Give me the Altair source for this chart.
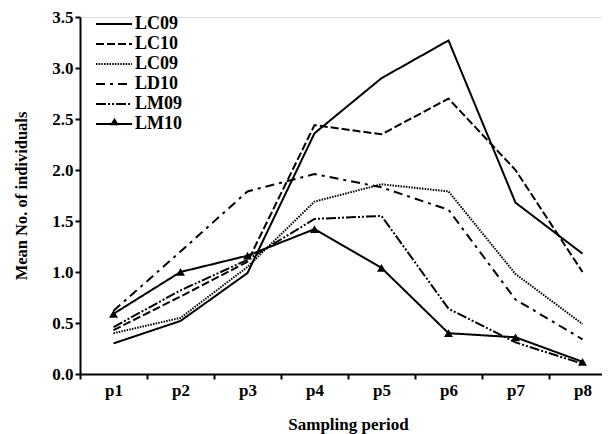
import altair as alt
import pandas as pd

periods = ["p1", "p2", "p3", "p4", "p5", "p6", "p7", "p8"]
series_keys = ["LC09", "LC10", "LC09b", "LD10", "LM09", "LM10"]
series_labels = ["LC09", "LC10", "LC09", "LD10", "LM09", "LM10"]
dash_patterns = [[1, 0], [8, 3], [1.5, 1.2], [9, 5, 3, 5], [10, 2, 2, 2, 2, 2], [1, 0]]

lc09 = [0.30, 0.52, 0.99, 2.36, 2.90, 3.27, 1.68, 1.18]
lc10 = [0.43, 0.76, 1.10, 2.44, 2.35, 2.70, 2.00, 1.00]
lc09b = [0.40, 0.55, 1.05, 1.69, 1.86, 1.79, 0.98, 0.49]
ld10 = [0.62, 1.20, 1.79, 1.96, 1.83, 1.61, 0.73, 0.34]
lm09 = [0.46, 0.82, 1.12, 1.52, 1.55, 0.64, 0.31, 0.10]
lm10 = [0.59, 1.00, 1.16, 1.42, 1.04, 0.40, 0.36, 0.12]

values = [lc09, lc10, lc09b, ld10, lm09, lm10]
rows = []
for key, vals in zip(series_keys, values):
    for p, v in zip(periods, vals):
        rows.append({"period": p, "series": key, "value": v})
df = pd.DataFrame(rows)

FONT = "Liberation Serif"
line_path = "M-4,0L4,0"

x_enc = alt.X(
    "period:N",
    sort=periods,
    scale=alt.Scale(paddingInner=0, paddingOuter=0, range=[0, 536]),
    axis=alt.Axis(
        title="Sampling period",
        labelAngle=0,
        tickBand="extent",
        tickSize=5,
        tickWidth=2,
        domainWidth=2,
        domainColor="black",
        tickColor="black",
        labelFont=FONT,
        labelFontWeight="bold",
        labelFontSize=17,
        labelColor="black",
        labelPadding=3,
        titleFont=FONT,
        titleFontWeight="bold",
        titleFontSize=17,
        titleColor="black",
        titlePadding=18,
    ),
)
y_enc = alt.Y(
    "value:Q",
    scale=alt.Scale(domain=[0, 3.5], nice=False),
    axis=alt.Axis(
        title="Mean No. of individuals",
        values=[0, 0.5, 1, 1.5, 2, 2.5, 3, 3.5],
        format=".1f",
        grid=False,
        tickSize=5,
        tickWidth=2,
        domainWidth=2,
        domainColor="black",
        tickColor="black",
        labelFont=FONT,
        labelFontWeight="bold",
        labelFontSize=17,
        labelColor="black",
        labelPadding=2,
        titleFont=FONT,
        titleFontWeight="bold",
        titleFontSize=16.5,
        titleColor="black",
        titlePadding=22,
    ),
)

lines = alt.Chart(df).mark_line(color="black", strokeWidth=2).encode(
    x=x_enc,
    y=y_enc,
    strokeDash=alt.StrokeDash(
        "series:N",
        scale=alt.Scale(domain=series_keys, range=dash_patterns),
        legend=alt.Legend(
            title=None,
            orient="none",
            legendX=25,
            legendY=-2,
            labelExpr="datum.value == 'LC09b' ? 'LC09' : datum.value",
            labelFont=FONT,
            labelFontWeight="bold",
            labelFontSize=18,
            labelColor="black",
            labelOffset=12,
            rowPadding=2,
            symbolType=line_path,
            symbolSize=81,
            symbolStrokeWidth=2,
            symbolStrokeColor="black",
            symbolOpacity=1,
        ),
    ),
    detail="series:N",
)

points = (
    alt.Chart(df)
    .transform_filter(alt.datum.series == "LM10")
    .transform_calculate(marker="''")
    .mark_point(filled=True, color="black", size=80, opacity=1)
    .encode(
        x=alt.X("period:N", sort=periods),
        y="value:Q",
        shape=alt.Shape(
            "marker:N",
            scale=alt.Scale(range=["triangle-up"]),
            legend=alt.Legend(
                title=None,
                orient="none",
                legendX=30,
                legendY=100,
                labelFontSize=1,
                labelLimit=1,
                symbolSize=80,
                symbolFillColor="black",
                symbolStrokeColor="black",
                symbolStrokeWidth=0,
                symbolOpacity=1,
            ),
        ),
    )
)

chart = (
    alt.layer(lines, points)
    .properties(
        width=522,
        height=357,
        autosize=alt.AutoSizeParams(type="none"),
        padding={"left": 72, "top": 9, "right": 0, "bottom": 60},
    )
    .configure_view(stroke=None)
    .configure(background="white")
)

chart.save("out.html", embed_options={"renderer": "svg", "actions": False})
